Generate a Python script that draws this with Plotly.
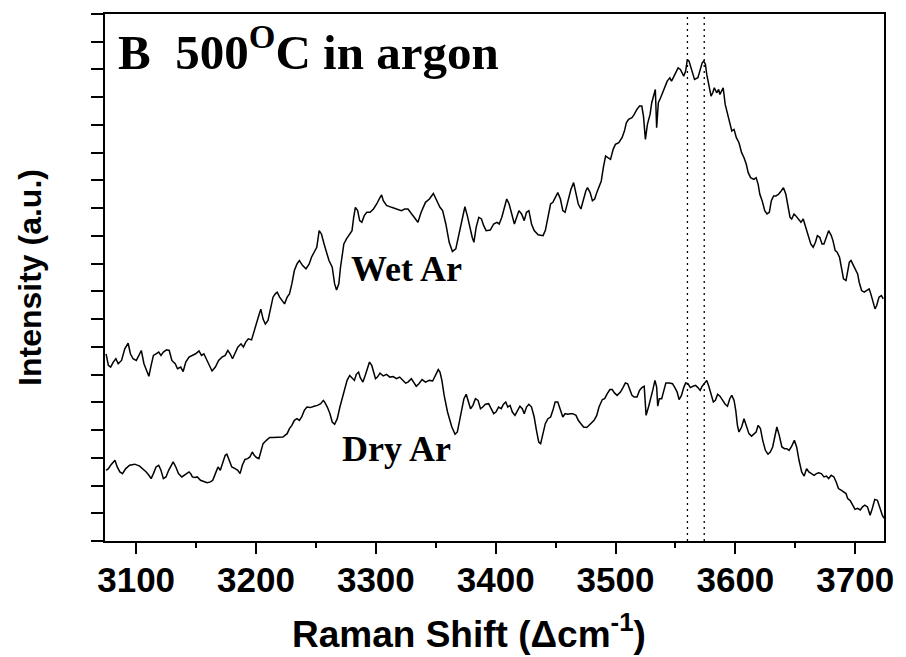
import plotly.graph_objects as go

# ---- data (Raman shift in cm^-1, intensity in arbitrary units) ----
wet_x = [3074.9, 3076.8, 3078.7, 3080.9, 3083.1, 3085.0, 3087.8, 3090.5, 3093.3, 3095.2,
         3097.4, 3100.1, 3102.3, 3104.3, 3106.5, 3108.9, 3110.6, 3112.5, 3114.4, 3116.6,
         3118.8, 3120.7, 3122.7, 3125.4, 3127.6, 3129.8, 3132.6, 3134.5, 3137.2, 3139.2,
         3141.4, 3144.1, 3146.9, 3149.6, 3152.4, 3154.5, 3156.5, 3157.8, 3160.6, 3163.3,
         3166.1, 3168.8, 3171.6, 3174.3, 3176.5, 3178.4, 3180.4, 3182.6, 3184.8, 3187.5,
         3189.5, 3191.4, 3193.6, 3196.3, 3198.5, 3200.4, 3202.4, 3204.0, 3205.9, 3207.8,
         3210.0, 3212.2, 3214.2, 3216.1, 3217.7, 3219.7, 3221.6, 3223.8, 3226.0, 3227.9,
         3229.9, 3232.0, 3234.2, 3236.2, 3238.9, 3241.7, 3244.4, 3246.3, 3248.5, 3250.7,
         3252.7, 3254.6, 3256.8, 3259.0, 3260.9, 3263.6, 3265.6, 3267.2, 3269.1, 3270.5,
         3271.9, 3273.3, 3275.5, 3277.4, 3280.1, 3281.5, 3282.9, 3284.8, 3286.5, 3288.3,
         3290.3, 3292.5, 3295.2, 3298.0, 3300.7, 3303.5, 3304.8, 3306.2, 3308.9, 3313.1,
         3317.2, 3321.3, 3324.1, 3326.8, 3329.6, 3332.3, 3335.1, 3337.8, 3341.4, 3344.7,
         3348.0, 3350.2, 3353.5, 3355.7, 3358.4, 3361.2, 3363.9, 3366.7, 3369.4, 3372.1,
         3374.3, 3376.3, 3378.2, 3380.4, 3381.8, 3383.7, 3385.9, 3388.1, 3390.0, 3392.0,
         3395.5, 3398.3, 3401.0, 3402.9, 3405.1, 3407.3, 3409.2, 3411.2, 3413.4, 3415.6,
         3417.5, 3419.4, 3421.6, 3423.8, 3425.7, 3427.7, 3429.9, 3432.1, 3435.4, 3439.5,
         3441.4, 3443.6, 3445.8, 3447.7, 3449.6, 3451.8, 3454.0, 3456.0, 3457.9, 3460.1,
         3462.8, 3465.0, 3467.0, 3468.9, 3471.1, 3473.3, 3475.2, 3476.6, 3478.8, 3480.7,
         3482.6, 3484.3, 3486.2, 3488.1, 3489.8, 3491.7, 3493.6, 3495.8, 3498.0, 3499.9,
         3502.7, 3505.4, 3507.4, 3509.0, 3510.9, 3513.7, 3515.6, 3517.8, 3520.0, 3521.9,
         3523.3, 3524.9, 3526.6, 3528.8, 3530.2, 3532.1, 3533.2, 3534.3, 3535.7, 3537.6,
         3539.8, 3541.2, 3543.1, 3545.3, 3546.7, 3548.1, 3550.3, 3552.2, 3554.1, 3555.8,
         3556.9, 3558.5, 3559.9, 3561.3, 3563.2, 3565.9, 3568.7, 3570.6, 3572.3, 3573.6,
         3575.0, 3576.1, 3577.8, 3579.7, 3581.1, 3582.4, 3584.4, 3586.0, 3587.1, 3588.7,
         3589.8, 3591.5, 3593.4, 3595.3, 3597.0, 3598.9, 3600.8, 3603.0, 3605.2, 3607.2,
         3609.1, 3610.7, 3612.7, 3615.4, 3617.3, 3619.0, 3620.4, 3622.3, 3624.5, 3626.4,
         3628.3, 3630.0, 3631.9, 3633.8, 3636.0, 3638.2, 3640.1, 3642.1, 3643.7, 3645.6,
         3647.0, 3648.9, 3650.3, 3652.5, 3654.7, 3656.6, 3658.5, 3660.7, 3662.9, 3664.9,
         3666.8, 3668.4, 3670.4, 3672.3, 3673.9, 3675.9, 3677.8, 3680.0, 3681.4, 3683.3,
         3684.9, 3686.9, 3688.2, 3690.2, 3692.3, 3693.7, 3695.1, 3696.5, 3697.8, 3699.8,
         3702.0, 3703.3, 3705.3, 3707.5, 3709.7, 3711.6, 3713.0, 3715.2, 3716.5, 3717.9,
         3719.8, 3721.8, 3723.4]
wet_y = [6.75, 6.33, 6.27, 6.45, 6.57, 6.39, 6.51, 6.93, 7.13, 6.75,
         6.57, 6.51, 6.69, 6.87, 6.39, 6.09, 5.94, 6.33, 6.69, 6.75,
         6.81, 6.69, 6.81, 6.89, 6.87, 6.51, 6.39, 6.21, 6.27, 6.11,
         6.45, 6.63, 6.69, 6.75, 6.85, 6.69, 6.75, 6.63, 6.33, 6.13,
         6.27, 6.51, 6.63, 6.69, 6.87, 6.75, 6.57, 6.81, 6.99, 7.11,
         6.99, 7.17, 7.29, 7.25, 7.53, 7.85, 8.14, 8.36, 8.00, 7.82,
         7.95, 8.40, 8.79, 8.91, 8.97, 8.79, 8.67, 8.55, 8.79, 8.91,
         9.27, 9.75, 9.99, 10.11, 9.93, 9.81, 9.99, 10.23, 10.41, 10.59,
         11.19, 11.07, 10.71, 10.35, 10.11, 9.87, 9.27, 9.05, 9.27, 9.87,
         10.35, 10.71, 10.89, 11.01, 11.19, 11.67, 12.03, 11.91, 11.55, 11.49,
         11.73, 11.85, 11.85, 11.97, 12.15, 12.39, 12.48, 12.27, 12.10, 12.03,
         11.97, 11.91, 11.97, 11.97, 11.81, 11.67, 11.49, 11.85, 12.21, 12.33,
         12.53, 12.33, 12.03, 11.91, 11.43, 10.77, 10.44, 10.53, 11.07, 11.67,
         12.05, 11.73, 11.31, 10.95, 10.77, 11.31, 11.67, 11.61, 11.37, 11.19,
         11.21, 11.43, 11.49, 11.43, 11.67, 12.09, 12.33, 12.15, 11.73, 11.43,
         11.67, 11.91, 11.79, 11.55, 11.85, 11.91, 11.43, 11.19, 11.04, 11.01,
         11.19, 11.67, 12.15, 12.21, 12.39, 12.56, 12.33, 11.91, 11.85, 12.27,
         12.68, 12.92, 12.51, 12.15, 11.97, 12.33, 12.62, 12.74, 12.56, 12.27,
         12.33, 12.56, 12.74, 12.98, 13.46, 13.88, 13.82, 13.76, 14.12, 14.30,
         14.36, 14.54, 14.78, 15.08, 15.20, 15.26, 15.38, 15.56, 15.68, 15.68,
         15.32, 14.48, 15.02, 15.38, 15.80, 16.16, 16.28, 14.90, 15.80, 15.98,
         16.22, 16.34, 16.58, 16.70, 16.58, 16.70, 16.88, 17.06, 17.00, 16.82,
         16.76, 16.94, 17.36, 17.30, 17.00, 16.64, 16.70, 17.00, 17.24, 17.30,
         17.18, 16.82, 16.46, 16.04, 16.16, 16.34, 16.16, 16.28, 16.10, 16.28,
         16.34, 15.74, 15.38, 15.02, 14.78, 14.84, 14.54, 14.36, 14.00, 13.82,
         13.58, 13.28, 13.10, 13.04, 13.10, 12.86, 12.50, 12.27, 11.91, 11.79,
         11.85, 12.27, 12.44, 12.44, 12.50, 12.62, 12.74, 12.50, 12.15, 11.67,
         11.61, 11.79, 11.73, 11.61, 11.49, 11.61, 11.31, 11.01, 10.71, 10.59,
         10.77, 11.01, 10.95, 10.71, 10.71, 10.95, 11.19, 11.01, 10.83, 10.47,
         10.41, 10.23, 9.87, 9.45, 9.39, 9.69, 10.05, 10.11, 9.99, 9.81,
         9.63, 9.33, 9.03, 8.97, 9.03, 9.09, 8.91, 8.55, 8.37, 8.49,
         8.79, 8.85, 8.73]

dry_x = [3074.9, 3076.8, 3078.7, 3080.9, 3082.3, 3084.2, 3086.4, 3088.6, 3091.3, 3094.6,
         3098.8, 3102.9, 3105.6, 3108.4, 3110.6, 3112.5, 3114.4, 3116.6, 3118.8, 3120.7,
         3122.7, 3124.9, 3127.1, 3129.0, 3130.9, 3133.1, 3135.3, 3138.1, 3140.0, 3141.9,
         3144.1, 3145.5, 3146.9, 3149.1, 3151.0, 3153.7, 3156.5, 3159.2, 3162.0, 3163.9,
         3166.1, 3168.3, 3170.2, 3172.1, 3174.3, 3175.7, 3177.6, 3179.8, 3182.6, 3184.8,
         3186.7, 3188.6, 3190.8, 3193.0, 3194.9, 3196.9, 3198.5, 3200.4, 3202.4, 3204.0,
         3205.9, 3208.7, 3211.4, 3214.2, 3216.9, 3219.7, 3222.4, 3226.0, 3227.9, 3229.9,
         3232.0, 3234.2, 3236.2, 3238.1, 3240.3, 3242.5, 3245.2, 3248.5, 3251.3, 3254.0,
         3256.2, 3257.3, 3259.5, 3261.7, 3263.6, 3265.6, 3267.8, 3270.0, 3271.9, 3273.8,
         3276.0, 3278.2, 3280.1, 3282.1, 3283.7, 3285.6, 3287.0, 3289.2, 3291.1, 3293.1,
         3294.7, 3296.6, 3298.0, 3299.7, 3301.3, 3303.5, 3306.2, 3308.9, 3311.7, 3314.4,
         3317.2, 3319.9, 3322.7, 3324.9, 3326.8, 3329.6, 3331.5, 3333.7, 3335.9, 3338.6,
         3341.4, 3344.7, 3347.4, 3350.2, 3352.1, 3353.5, 3355.1, 3357.0, 3359.8, 3363.4,
         3366.1, 3368.0, 3370.0, 3372.1, 3373.5, 3375.4, 3377.1, 3379.0, 3381.0, 3383.1,
         3385.3, 3387.3, 3389.2, 3391.4, 3394.1, 3396.3, 3398.3, 3400.2, 3402.4, 3404.6,
         3406.5, 3408.4, 3410.1, 3412.0, 3413.9, 3416.1, 3418.3, 3420.2, 3422.2, 3423.8,
         3425.7, 3427.7, 3429.9, 3432.1, 3434.0, 3435.9, 3437.5, 3439.5, 3441.4, 3443.6,
         3445.8, 3447.7, 3449.6, 3451.8, 3454.0, 3456.0, 3457.9, 3460.1, 3462.3, 3464.2,
         3467.0, 3468.9, 3471.1, 3473.3, 3476.0, 3477.9, 3479.9, 3482.1, 3484.3, 3486.2,
         3489.0, 3490.9, 3493.1, 3495.3, 3497.2, 3499.1, 3501.3, 3504.1, 3506.2, 3508.2,
         3510.1, 3511.7, 3513.7, 3515.6, 3517.9, 3520.0, 3522.0, 3523.9, 3525.5, 3527.5,
         3529.4, 3531.0, 3532.9, 3534.3, 3535.2, 3536.5, 3538.5, 3540.4, 3542.0, 3544.8,
         3547.5, 3549.5, 3551.4, 3553.0, 3555.0, 3556.9, 3558.5, 3560.4, 3562.4, 3564.6,
         3566.8, 3568.7, 3570.6, 3572.3, 3574.2, 3576.1, 3577.8, 3579.7, 3581.6, 3583.3,
         3585.2, 3587.1, 3589.3, 3591.5, 3593.4, 3595.3, 3597.0, 3598.9, 3600.3, 3601.7,
         3603.0, 3605.2, 3607.2, 3609.1, 3611.3, 3613.5, 3615.4, 3617.3, 3619.0, 3620.9,
         3622.8, 3625.0, 3627.2, 3629.1, 3631.1, 3632.7, 3634.6, 3636.6, 3638.8, 3641.0,
         3642.9, 3644.8, 3647.0, 3649.2, 3651.1, 3653.1, 3655.3, 3657.4, 3659.4, 3661.3,
         3663.5, 3665.7, 3667.6, 3669.5, 3671.7, 3673.9, 3675.9, 3677.8, 3680.0, 3682.2,
         3684.1, 3686.0, 3688.2, 3690.4, 3692.3, 3693.7, 3695.9, 3697.9, 3699.8, 3702.0,
         3704.2, 3706.1, 3708.0, 3710.2, 3712.4, 3714.3, 3716.3, 3718.5, 3720.6, 3722.6,
         3723.9]
dry_y = [2.55, 2.61, 2.73, 2.85, 2.91, 2.67, 2.49, 2.43, 2.61, 2.73,
         2.77, 2.70, 2.61, 2.49, 2.37, 2.25, 2.43, 2.67, 2.73, 2.55,
         2.25, 2.31, 2.55, 2.73, 2.85, 2.67, 2.43, 2.31, 2.37, 2.43,
         2.49, 2.43, 2.31, 2.29, 2.31, 2.19, 2.13, 2.10, 2.13, 2.19,
         2.43, 2.67, 2.55, 2.79, 3.09, 3.13, 2.91, 2.67, 2.61, 2.55,
         2.43, 2.73, 2.94, 2.97, 3.03, 3.21, 3.09, 3.01, 2.97, 3.21,
         3.51, 3.63, 3.73, 3.73, 3.73, 3.73, 3.75, 3.87, 4.05, 4.17,
         4.35, 4.41, 4.35, 4.47, 4.71, 4.83, 4.81, 4.86, 4.89, 4.95,
         5.07, 5.01, 4.83, 4.59, 4.29, 4.21, 4.41, 4.83, 5.13, 5.46,
         5.79, 5.97, 5.89, 5.79, 6.01, 6.09, 5.89, 5.73, 5.97, 6.27,
         6.45, 6.33, 6.09, 5.85, 5.91, 6.05, 5.95, 6.01, 5.91, 5.93,
         5.85, 5.91, 5.79, 5.69, 5.73, 5.85, 5.73, 5.58, 5.67, 5.82,
         5.73, 5.79, 5.77, 6.03, 6.18, 6.09, 5.79, 5.25, 4.65, 4.11,
         3.85, 3.93, 4.35, 4.83, 5.13, 5.29, 5.07, 4.77, 4.89, 5.13,
         5.07, 4.77, 4.83, 4.93, 4.95, 4.77, 4.59, 4.65, 4.83, 4.77,
         4.93, 5.01, 4.83, 4.89, 4.65, 4.53, 4.71, 4.86, 4.77, 4.59,
         4.83, 4.93, 4.83, 4.47, 3.99, 3.57, 3.51, 3.87, 4.23, 4.41,
         4.47, 4.71, 5.01, 5.01, 4.71, 4.47, 4.59, 4.57, 4.59, 4.59,
         4.53, 4.35, 4.23, 4.11, 4.09, 4.17, 4.23, 4.35, 4.53, 4.83,
         5.10, 5.13, 5.31, 5.46, 5.46, 5.34, 5.25, 5.37, 5.53, 5.70,
         5.67, 5.49, 5.25, 5.19, 5.19, 5.43, 5.53, 5.58, 4.53, 4.83,
         5.13, 5.43, 5.79, 5.55, 4.86, 5.13, 5.13, 5.46, 5.70, 5.70,
         5.67, 5.53, 5.37, 5.10, 5.25, 5.53, 5.70, 5.67, 5.53, 5.58,
         5.61, 5.53, 5.43, 5.58, 5.70, 5.79, 5.58, 5.25, 5.01, 5.07,
         5.29, 5.22, 5.07, 4.93, 4.86, 5.13, 5.25, 5.07, 4.71, 4.17,
         3.93, 4.11, 4.41, 4.17, 3.87, 3.78, 3.87, 3.93, 4.17, 4.05,
         3.63, 3.27, 3.13, 3.21, 3.39, 3.75, 4.11, 3.81, 3.39, 3.33,
         3.33, 3.27, 3.42, 3.63, 3.39, 2.91, 2.49, 2.34, 2.61, 2.49,
         2.43, 2.37, 2.43, 2.46, 2.43, 2.31, 2.34, 2.25, 2.37, 2.31,
         2.13, 1.89, 1.83, 1.77, 1.71, 1.53, 1.45, 1.29, 1.14, 1.18,
         1.12, 1.23, 1.29, 1.23, 0.93, 1.18, 1.50, 1.47, 1.18, 0.93,
         0.82]

ref_lines = [3560, 3574]          # dotted marker positions (cm^-1)
x_range = [3074, 3724]
y_range = [0, 19]

fig = go.Figure()
fig.add_trace(go.Scatter(x=wet_x, y=wet_y, mode="lines", name="Wet Ar",
                         line=dict(color="black", width=1.5)))
fig.add_trace(go.Scatter(x=dry_x, y=dry_y, mode="lines", name="Dry Ar",
                         line=dict(color="black", width=1.5)))

for xv in ref_lines:
    fig.add_shape(type="line", xref="x", yref="paper", x0=xv, x1=xv, y0=0, y1=1,
                  line=dict(color="black", width=1.3, dash="2px,4px"))

serif = "Liberation Serif, Times New Roman, serif"
sans = "Liberation Sans, Arial, sans-serif"

fig.add_annotation(x=3083.5, y=17.75, xref="x", yref="y", xanchor="left", yanchor="middle",
                   text="B\u00a0\u00a0500<sup>O</sup>C in argon", showarrow=False,
                   font=dict(family=serif, size=49, color="black", weight="bold"))
fig.add_annotation(x=3325.6, y=9.82, xref="x", yref="y", xanchor="center", yanchor="middle",
                   text="Wet Ar", showarrow=False,
                   font=dict(family=serif, size=36, color="black", weight="bold"))
fig.add_annotation(x=3317.4, y=3.31, xref="x", yref="y", xanchor="center", yanchor="middle",
                   text="Dry Ar", showarrow=False,
                   font=dict(family=serif, size=36, color="black", weight="bold"))

# x-axis title (placed as annotation so it can sit slightly left of centre as in the reference)
fig.add_annotation(x=0.467, y=-0.172, xref="paper", yref="paper",
                   xanchor="center", yanchor="middle", showarrow=False,
                   text="Raman Shift (\u0394cm<sup>-1</sup>)",
                   font=dict(family=sans, size=37, color="black", weight="bold"))

fig.update_layout(
    width=906, height=657,
    margin=dict(l=105, r=13, t=12, b=116),
    paper_bgcolor="white", plot_bgcolor="white",
    showlegend=False,
)
fig.update_xaxes(
    range=x_range, tickmode="linear", tick0=3100, dtick=100,
    ticks="outside", ticklen=11, tickwidth=2, tickcolor="black",
    showline=True, linewidth=2, linecolor="black", mirror=True,
    showgrid=False, zeroline=False, ticklabelstandoff=-4,
    tickfont=dict(family=sans, size=35, color="black", weight="bold"),
    minor=dict(dtick=50, tick0=3050, ticks="outside", ticklen=5, tickwidth=2,
               tickcolor="black", showgrid=False),
)
fig.update_yaxes(
    range=y_range, tickmode="linear", tick0=0, dtick=1,
    ticks="outside", ticklen=12, tickwidth=1.5, tickcolor="black",
    showticklabels=False,
    showline=True, linewidth=2, linecolor="black", mirror=True,
    showgrid=False, zeroline=False,
    title=dict(text="Intensity (a.u.)", standoff=40,
               font=dict(family=sans, size=32, color="black", weight="bold")),
)

fig.write_html("out.html")
